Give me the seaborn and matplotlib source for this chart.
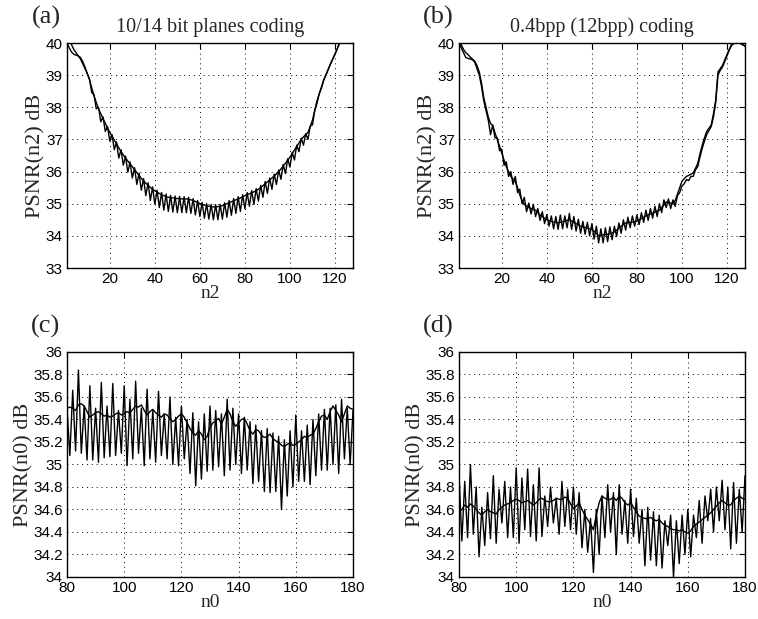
import numpy as np
import pandas as pd
import matplotlib
matplotlib.use("Agg")
import matplotlib.pyplot as plt
from matplotlib.ticker import FormatStrFormatter
import seaborn as sns

# ---- data ----
n2 = list(range(1, 129))
n0 = list(range(80, 181))

# (a) 10/14 bit planes coding
psnr_a_smooth = [
    40.3, 40.1, 39.95, 39.8, 39.7, 39.6, 39.5, 39.35, 39.2, 39.05,
    38.85, 38.6, 38.35, 38.15, 37.95, 37.8, 37.65, 37.5, 37.35, 37.22,
    37.1, 36.98, 36.86, 36.74, 36.62, 36.52, 36.42, 36.33, 36.24, 36.15,
    36.06, 35.97, 35.88, 35.79, 35.71, 35.64, 35.57, 35.51, 35.45, 35.4,
    35.36, 35.32, 35.28, 35.25, 35.22, 35.2, 35.19, 35.18, 35.17, 35.16,
    35.16, 35.15, 35.15, 35.15, 35.14, 35.12, 35.1, 35.07, 35.04, 35.01,
    34.98, 34.96, 34.94, 34.92, 34.91, 34.9, 34.9, 34.91, 34.92, 34.94,
    34.97, 35.0, 35.03, 35.06, 35.09, 35.12, 35.15, 35.18, 35.21, 35.25,
    35.28, 35.31, 35.34, 35.37, 35.4, 35.45, 35.5, 35.56, 35.62, 35.68,
    35.74, 35.8, 35.86, 35.93, 36.0, 36.08, 36.17, 36.26, 36.35, 36.45,
    36.56, 36.67, 36.78, 36.89, 37.0, 37.08, 37.15, 37.22, 37.4, 37.6,
    37.9, 38.2, 38.42, 38.64, 38.85, 39.02, 39.18, 39.35, 39.5, 39.65,
    39.82, 40.0, 40.12, 40.25, 40.4, 40.55, 40.7, 40.85,
]
psnr_a_zigzag = [
    40.0, 39.85, 39.72, 39.65, 39.62, 39.6, 39.55, 39.42, 39.25, 39.05,
    38.88, 38.45, 38.4, 37.95, 38.0, 37.55, 37.7, 37.25, 37.4, 36.95,
    37.15, 36.68, 36.92, 36.42, 36.68, 36.2, 36.48, 35.98, 36.3, 35.8,
    36.12, 35.6, 35.95, 35.42, 35.78, 35.25, 35.65, 35.1, 35.52, 34.98,
    35.42, 34.88, 35.35, 34.8, 35.3, 34.76, 35.26, 34.74, 35.24, 34.72,
    35.23, 34.72, 35.22, 34.72, 35.2, 34.7, 35.16, 34.65, 35.1, 34.6,
    35.04, 34.55, 35.0, 34.52, 34.98, 34.5, 34.97, 34.5, 34.98, 34.52,
    35.03, 34.58, 35.1, 34.64, 35.16, 34.7, 35.22, 34.76, 35.28, 34.84,
    35.35, 34.92, 35.41, 34.98, 35.47, 35.08, 35.57, 35.2, 35.69, 35.32,
    35.8, 35.45, 35.92, 35.6, 36.05, 35.76, 36.22, 35.94, 36.4, 36.14,
    36.6, 36.36, 36.82, 36.62, 37.04, 36.82, 37.18, 37.0, 37.42, 37.45,
    37.9, 38.12, 38.42, 38.6, 38.85, 39.0, 39.18, 39.34, 39.5, 39.66,
    39.82, 40.0, 40.12, 40.25, 40.4, 40.55, 40.7, 40.85,
]

# (b) 0.4bpp (12bpp) coding
psnr_b_smooth = [
    40.1, 39.95, 39.8, 39.7, 39.64, 39.56, 39.5, 39.43, 39.3, 39.1,
    38.75, 38.3, 38.0, 37.7, 37.5, 37.42, 37.2, 37.0, 36.8, 36.57,
    36.36, 36.15, 36.0, 35.85, 35.77, 35.7, 35.5, 35.27, 35.1, 34.98,
    34.92, 34.88, 34.85, 34.82, 34.8, 34.72, 34.65, 34.6, 34.55, 34.5,
    34.47, 34.45, 34.43, 34.42, 34.4, 34.42, 34.44, 34.46, 34.48, 34.5,
    34.46, 34.42, 34.38, 34.34, 34.3, 34.28, 34.26, 34.24, 34.22, 34.2,
    34.14, 34.08, 34.0, 34.02, 34.03, 34.04, 34.05, 34.07, 34.09, 34.12,
    34.18, 34.24, 34.3, 34.35, 34.4, 34.41, 34.42, 34.43, 34.44, 34.46,
    34.5, 34.54, 34.58, 34.62, 34.65, 34.68, 34.71, 34.74, 34.77, 34.8,
    34.88, 34.96, 35.05, 35.03, 35.02, 35.0, 35.1, 35.3, 35.5, 35.7,
    35.78, 35.85, 35.88, 35.92, 35.96, 36.1, 36.25, 36.55, 36.82, 37.05,
    37.25, 37.35, 37.45, 37.8, 38.23, 39.1, 39.2, 39.3, 39.47, 39.64,
    39.8, 39.95, 40.0, 40.02, 40.01, 40.0, 39.95, 39.9,
]
psnr_b_zigzag = [
    40.0, 39.85, 39.7, 39.55, 39.52, 39.5, 39.48, 39.4, 39.2, 39.0,
    38.65, 38.2, 37.9, 37.6, 37.15, 37.45, 37.05, 37.05, 36.65, 36.7,
    36.2, 36.3, 35.85, 36.0, 35.6, 35.85, 35.35, 35.45, 35.0, 35.2,
    34.75, 35.02, 34.68, 34.98, 34.6, 34.85, 34.48, 34.75, 34.38, 34.66,
    34.3, 34.62, 34.22, 34.6, 34.2, 34.65, 34.22, 34.62, 34.25, 34.7,
    34.2, 34.6, 34.15, 34.52, 34.08, 34.45, 34.05, 34.42, 34.0, 34.38,
    33.9, 34.3, 33.78, 34.22, 33.78, 34.25, 33.82, 34.28, 33.88, 34.3,
    33.98, 34.4, 34.08, 34.5, 34.18, 34.58, 34.25, 34.62, 34.3, 34.65,
    34.35, 34.72, 34.42, 34.8, 34.48, 34.85, 34.55, 34.92, 34.6, 35.0,
    34.72, 35.12, 34.88, 35.15, 34.85, 35.12, 34.92, 35.25, 35.35, 35.55,
    35.62, 35.75, 35.72, 35.85, 35.85, 36.05, 36.15, 36.45, 36.72, 36.95,
    37.15, 37.28, 37.4, 37.7, 38.15, 39.0, 39.15, 39.25, 39.42, 39.6,
    39.78, 39.92, 39.98, 40.0, 40.02, 39.98, 39.94, 39.9,
]

# (c) PSNR(n0), 10/14 bit planes
psnr_c_smooth = [
    35.5, 35.51, 35.5, 35.48, 35.53, 35.54, 35.52, 35.47, 35.42, 35.44,
    35.46, 35.47, 35.45, 35.43, 35.44, 35.42, 35.43, 35.45, 35.46, 35.44,
    35.45, 35.47, 35.46, 35.49, 35.52, 35.51, 35.53, 35.48, 35.44, 35.47,
    35.49, 35.46, 35.44, 35.42, 35.45, 35.44, 35.41, 35.38, 35.4, 35.43,
    35.45, 35.42, 35.37, 35.32, 35.28, 35.26, 35.3, 35.27, 35.22, 35.25,
    35.33, 35.37, 35.39, 35.41, 35.36, 35.42, 35.49, 35.45, 35.38, 35.34,
    35.37, 35.4, 35.41, 35.36, 35.3, 35.27, 35.31, 35.3, 35.26, 35.24,
    35.25, 35.27, 35.23, 35.21, 35.2, 35.17, 35.16, 35.18, 35.19, 35.17,
    35.18, 35.2, 35.22, 35.25, 35.24, 35.26, 35.27, 35.32, 35.38, 35.43,
    35.44, 35.4, 35.47, 35.52, 35.48, 35.44, 35.38, 35.45, 35.52, 35.5,
    35.49,
]
psnr_c_zigzag = [
    35.5, 35.08, 35.66, 35.12, 35.84, 35.1, 35.52, 35.04, 35.7, 35.04,
    35.5, 35.02, 35.73, 35.06, 35.52, 35.07, 35.72, 35.08, 35.48, 35.1,
    35.7, 34.99, 35.58, 35.05, 35.74, 35.1, 35.5, 34.99, 35.67, 35.05,
    35.48, 35.02, 35.65, 35.08, 35.45, 35.05, 35.6, 35.0, 35.42, 34.99,
    35.52, 35.05, 35.4, 34.92, 35.46, 34.81, 35.38, 34.87, 35.45, 34.94,
    35.52, 34.95, 35.48, 34.98, 35.45, 34.9, 35.58, 34.95, 35.5, 35.0,
    35.45, 34.92, 35.42, 34.95, 35.38, 34.83, 35.35, 34.85, 35.3, 34.76,
    35.32, 34.75, 35.28, 34.76, 35.25, 34.6, 35.22, 34.72, 35.3, 34.8,
    35.44, 34.85, 35.3, 34.85, 35.35, 34.82, 35.4, 34.9, 35.45, 34.95,
    35.49, 34.95, 35.5, 35.0, 35.53, 34.92, 35.58, 35.05, 35.5, 35.0,
    35.48,
]

# (d) PSNR(n0), 0.4bpp
psnr_d_smooth = [
    34.58, 34.6, 34.64, 34.62, 34.65, 34.63, 34.6, 34.57, 34.55, 34.58,
    34.6, 34.58, 34.57, 34.56, 34.6, 34.62, 34.64, 34.65, 34.66, 34.68,
    34.69, 34.68, 34.66, 34.67, 34.68, 34.66, 34.64, 34.66, 34.69, 34.7,
    34.68, 34.67, 34.67, 34.68, 34.7, 34.69, 34.69, 34.71, 34.7, 34.65,
    34.61, 34.63, 34.66, 34.6, 34.55, 34.51, 34.47, 34.42, 34.55, 34.66,
    34.72, 34.7, 34.69, 34.69, 34.71, 34.68, 34.72, 34.7, 34.66, 34.64,
    34.66, 34.62, 34.58, 34.54, 34.53, 34.52, 34.52, 34.53, 34.51, 34.5,
    34.51, 34.48, 34.46, 34.45, 34.43, 34.42, 34.42, 34.41, 34.42, 34.4,
    34.39, 34.41, 34.45, 34.47, 34.49, 34.51, 34.53, 34.55, 34.57, 34.6,
    34.63, 34.66, 34.68, 34.66, 34.64, 34.64, 34.68, 34.7, 34.72, 34.7,
    34.69,
]
psnr_d_zigzag = [
    34.92, 34.32, 34.85, 34.35, 35.0, 34.38, 34.8, 34.18, 34.62, 34.28,
    34.75, 34.34, 34.9, 34.3, 34.78, 34.48, 34.85, 34.35, 34.8, 34.35,
    34.97, 34.3, 34.88, 34.42, 34.96, 34.36, 34.82, 34.32, 34.97, 34.36,
    34.72, 34.45, 34.8, 34.48, 34.7, 34.38, 34.85, 34.45, 34.78, 34.42,
    34.8, 34.38, 34.75, 34.26, 34.6, 34.22, 34.52, 34.04, 34.6, 34.2,
    34.72, 34.35, 34.82, 34.4, 34.75, 34.2, 34.82, 34.38, 34.68, 34.3,
    34.78, 34.36, 34.7, 34.3, 34.6, 34.1, 34.62, 34.15, 34.58, 34.1,
    34.55, 34.08, 34.5, 34.28, 34.55, 34.0, 34.5, 34.12, 34.55, 34.2,
    34.6, 34.18, 34.55, 34.35, 34.68, 34.3, 34.72, 34.5, 34.78, 34.4,
    34.8, 34.5, 34.86, 34.42, 34.8, 34.25, 34.84, 34.3, 34.78, 34.4,
    34.9,
]

panels = [
    ("(a)", "10/14 bit planes coding", n2, psnr_a_smooth, psnr_a_zigzag, "n2", "PSNR(n2) dB"),
    ("(b)", "0.4bpp (12bpp) coding", n2, psnr_b_smooth, psnr_b_zigzag, "n2", "PSNR(n2) dB"),
    ("(c)", "", n0, psnr_c_smooth, psnr_c_zigzag, "n0", "PSNR(n0) dB"),
    ("(d)", "", n0, psnr_d_smooth, psnr_d_zigzag, "n0", "PSNR(n0) dB"),
]

sns.set_style("white")
plt.rcParams['font.family'] = ['Liberation Sans', 'DejaVu Sans']
serif = ['Liberation Serif', 'DejaVu Serif']

fig = plt.figure(figsize=(7.58, 6.19), dpi=100)
W, H = 758, 619
boxes = [(67, 43), (459, 43), (67, 352), (459, 352)]
aw, ah = 286, 225

for (tag, title, xs, smooth, zig, xlab, ylab), (px, py) in zip(panels, boxes):
    ax = fig.add_axes([px / W, 1 - (py + ah) / H, aw / W, ah / H])
    df = pd.DataFrame({'x': xs, 'smooth': smooth, 'zigzag': zig})
    sns.lineplot(data=df, x='x', y='zigzag', ax=ax, color='k', lw=1.0, estimator=None)
    sns.lineplot(data=df, x='x', y='smooth', ax=ax, color='k', lw=1.0, estimator=None)

    if xlab == "n2":
        ax.set_xlim(1, 128)
        ax.set_ylim(33, 40)
        ax.set_xticks([20, 40, 60, 80, 100, 120])
        ax.set_yticks(range(33, 41))
        ax.yaxis.set_major_formatter(FormatStrFormatter('%d'))
    else:
        ax.set_xlim(80, 180)
        ax.set_ylim(34, 36)
        ax.set_xticks(range(80, 181, 20))
        ax.set_yticks(np.arange(34, 36.01, 0.2))
        ax.set_yticklabels(['34', '34.2', '34.4', '34.6', '34.8', '35',
                            '35.2', '35.4', '35.6', '35.8', '36'])

    ax.grid(True, linestyle=(0, (1, 4)), color='k', lw=0.7)
    ax.tick_params(direction='in', length=4, width=0.8, labelsize=11,
                   top=True, right=True, colors='k', pad=3)
    for s in ax.spines.values():
        s.set_color('k')
        s.set_linewidth(1.0)

    ax.set_xlabel(xlab, family=serif, fontsize=14, labelpad=-1)
    ax.set_ylabel(ylab, family=serif, fontsize=16, labelpad=0)
    if title:
        ax.set_title(title, family=serif, fontsize=14.5, pad=8)
    fig.text((px - 21) / W, 1 - (py - 26) / H, tag, family=serif, fontsize=19,
             ha='center', va='center')

fig.savefig("out.png", dpi=100)
